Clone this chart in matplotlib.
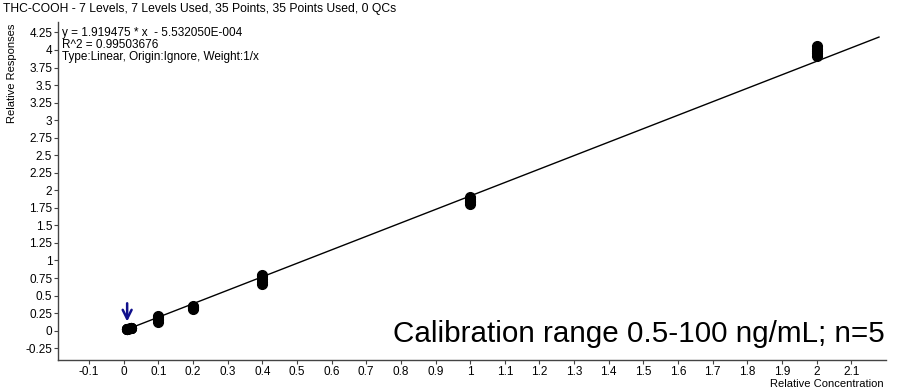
import matplotlib
matplotlib.use("Agg")
import matplotlib.pyplot as plt
import numpy as np

plt.rcParams["font.family"] = ["Liberation Sans", "DejaVu Sans"]

# Calibration levels (relative concentration) and five replicate responses each
levels = [0.01, 0.02, 0.1, 0.2, 0.4, 1.0, 2.0]
responses = [
    [0.018, 0.020, 0.022, 0.019, 0.021],
    [0.036, 0.038, 0.040, 0.035, 0.042],
    [0.21, 0.19, 0.17, 0.15, 0.13],
    [0.35, 0.34, 0.33, 0.32, 0.31],
    [0.80, 0.78, 0.74, 0.69, 0.67],
    [1.91, 1.88, 1.85, 1.83, 1.80],
    [4.06, 4.02, 3.98, 3.95, 3.91],
]

# Fit parameters
slope = 1.919475
intercept = -5.532050e-004
r2 = 0.99503676
fit_x = [0.01, 2.18]

x_ticks = [round(v, 1) for v in np.arange(-0.1, 2.15, 0.1)]
y_ticks = [-0.25, 0, 0.25, 0.5, 0.75, 1, 1.25, 1.5, 1.75, 2, 2.25, 2.5,
           2.75, 3, 3.25, 3.5, 3.75, 4, 4.25]


def fmt(v):
    return f"{v:g}"


fig = plt.figure(figsize=(9.04, 3.91), dpi=100)
ax = fig.add_axes([0.064, 0.079, 0.916, 0.865])

xs = np.array(fit_x)
ax.plot(xs, slope * xs + intercept, color="black", lw=1.0, zorder=2)

for lvl, reps in zip(levels, responses):
    ax.plot([lvl] * len(reps), reps, "o", color="black", ms=7.0, mec="black",
            zorder=3, clip_on=False)

# blue arrow pointing at the lowest calibrator
ax.annotate("", xy=(0.01, 0.13), xytext=(0.01, 0.39),
            arrowprops=dict(arrowstyle="->", color="#10108c", lw=1.8,
                            mutation_scale=16, shrinkA=0, shrinkB=0))

ax.set_xlim(-0.19, 2.2)
ax.set_ylim(-0.42, 4.40)
ax.set_xticks(x_ticks)
ax.set_xticklabels([fmt(v) for v in x_ticks], fontsize=8.5)
ax.set_yticks(y_ticks)
ax.set_yticklabels([fmt(v) for v in y_ticks], fontsize=8.5)
ax.tick_params(length=3, width=0.8, color="#444444", pad=1)

for side in ["top", "right"]:
    ax.spines[side].set_visible(False)
for side in ["left", "bottom"]:
    ax.spines[side].set_color("#444444")
    ax.spines[side].set_linewidth(1.0)

fig.text(0.003, 0.978, "THC-COOH - 7 Levels, 7 Levels Used, 35 Points, 35 Points Used, 0 QCs",
         fontsize=8.7, va="center", ha="left")
ax.text(0.005, 0.985,
        f"y = {slope} * x  - 5.532050E-004\nR^2 = {r2:.8f}\nType:Linear, Origin:Ignore, Weight:1/x",
        transform=ax.transAxes, fontsize=8.5, va="top", ha="left", linespacing=1.0)

fig.text(0.013, 0.94, "Relative Responses", rotation=90, fontsize=8,
         va="top", ha="center")
fig.text(0.978, 0.018, "Relative Concentration", fontsize=8,
         va="center", ha="right")

ax.text(0.999, 0.035, "Calibration range 0.5-100 ng/mL; n=5",
        transform=ax.transAxes, fontsize=21.3, ha="right", va="bottom")

fig.savefig("out.png", dpi=100)
